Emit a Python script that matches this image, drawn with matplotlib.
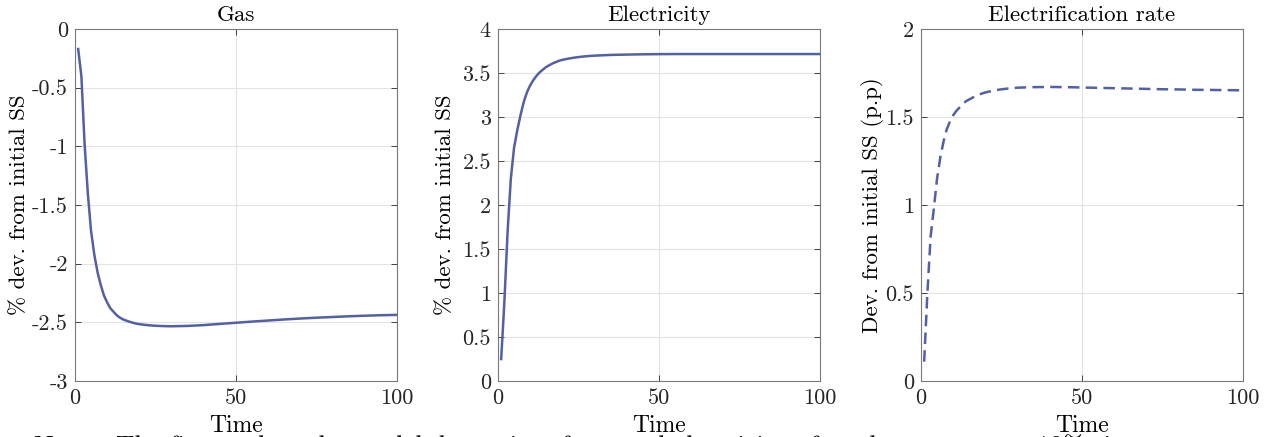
import matplotlib
matplotlib.use("Agg")
import matplotlib.pyplot as plt

plt.rcParams['font.family'] = ['cmr10', 'DejaVu Serif']
plt.rcParams['axes.unicode_minus'] = False
plt.rcParams['mathtext.fontset'] = 'cm'

# time index (quarters after the shock)
t = [1, 2, 3, 4, 5, 6, 7, 8, 9, 10, 11, 12, 13, 14, 15, 16, 17, 18, 19, 20,
     22, 24, 26, 28, 30, 35, 40, 45, 50, 55, 60, 65, 70, 75, 80, 85, 90, 95, 100]

gas = [-0.17, -0.40, -0.98, -1.40, -1.72, -1.92, -2.07, -2.18, -2.27, -2.33,
       -2.38, -2.41, -2.44, -2.46, -2.475, -2.485, -2.495, -2.503, -2.51, -2.515,
       -2.522, -2.527, -2.530, -2.532, -2.533, -2.530, -2.523, -2.513, -2.503, -2.493,
       -2.484, -2.475, -2.467, -2.460, -2.454, -2.448, -2.443, -2.439, -2.436]

electricity = [0.25, 0.90, 1.70, 2.30, 2.65, 2.85, 3.02, 3.17, 3.28, 3.36,
               3.42, 3.47, 3.51, 3.54, 3.57, 3.59, 3.61, 3.625, 3.64, 3.65,
               3.665, 3.677, 3.686, 3.693, 3.698, 3.706, 3.710, 3.713, 3.715, 3.716,
               3.716, 3.716, 3.716, 3.716, 3.716, 3.716, 3.716, 3.716, 3.716]

elec_rate = [0.11, 0.50, 0.82, 0.98, 1.15, 1.27, 1.36, 1.43, 1.475, 1.51,
             1.535, 1.555, 1.575, 1.59, 1.60, 1.61, 1.62, 1.628, 1.634, 1.64,
             1.648, 1.655, 1.660, 1.664, 1.667, 1.670, 1.671, 1.670, 1.668, 1.666,
             1.664, 1.662, 1.660, 1.658, 1.657, 1.655, 1.654, 1.653, 1.652]

titles = ['Gas', 'Electricity', 'Electrification rate']
ylabels = ['% dev. from initial SS', '% dev. from initial SS', 'Dev. from initial SS (p.p)']
xticks = [0, 50, 100]
xticklabels = ['0', '50', '100']
yticks = [[0, -0.5, -1, -1.5, -2, -2.5, -3],
          [0, 0.5, 1, 1.5, 2, 2.5, 3, 3.5, 4],
          [0, 0.5, 1, 1.5, 2]]
yticklabels = [['0', '-0.5', '-1', '-1.5', '-2', '-2.5', '-3'],
               ['0', '0.5', '1', '1.5', '2', '2.5', '3', '3.5', '4'],
               ['0', '0.5', '1', '1.5', '2']]
ylims = [(-3, 0), (0, 4), (0, 2)]
series = [gas, electricity, elec_rate]
styles = ['-', '-', '--']

color = '#5360a3'

fig = plt.figure(figsize=(12.68, 4.37), dpi=100)
lefts = [0.0591, 0.3927, 0.7263]
ylabelpads = [2, 5, 1]

for i in range(3):
    ax = fig.add_axes([lefts[i], 0.128, 0.254, 0.8055])
    if styles[i] == '--':
        ax.plot(t, series[i], color=color, lw=1.8, dashes=(4.6, 2.5))
    else:
        ax.plot(t, series[i], color=color, lw=1.8)
    ax.set_xlim(0, 100)
    ax.set_ylim(*ylims[i])
    ax.set_xticks(xticks)
    ax.set_xticklabels(xticklabels)
    ax.set_yticks(yticks[i])
    ax.set_yticklabels(yticklabels[i])
    ax.grid(True, color='#e3e3e3', lw=0.8)
    ax.set_axisbelow(True)
    ax.tick_params(direction='in', length=4, width=0.6, top=True, right=True,
                   labelsize=16, colors='#262626', pad=5)
    for s in ax.spines.values():
        s.set_color('#7a7a7a')
        s.set_linewidth(0.8)
    ax.set_title(titles[i], fontsize=16.5, pad=6)
    ax.set_xlabel('Time', fontsize=17, labelpad=5)
    ax.set_ylabel(ylabels[i], fontsize=16.5, labelpad=ylabelpads[i])

# notes line below the panels, mostly cut off by the lower edge
fig.text(0.027, 0.0058,
         'Notes: The figure plots the model dynamics of gas and electricity after the permanent 10% rise',
         fontsize=19, va='top', ha='left')

fig.savefig('out.png', dpi=100)
